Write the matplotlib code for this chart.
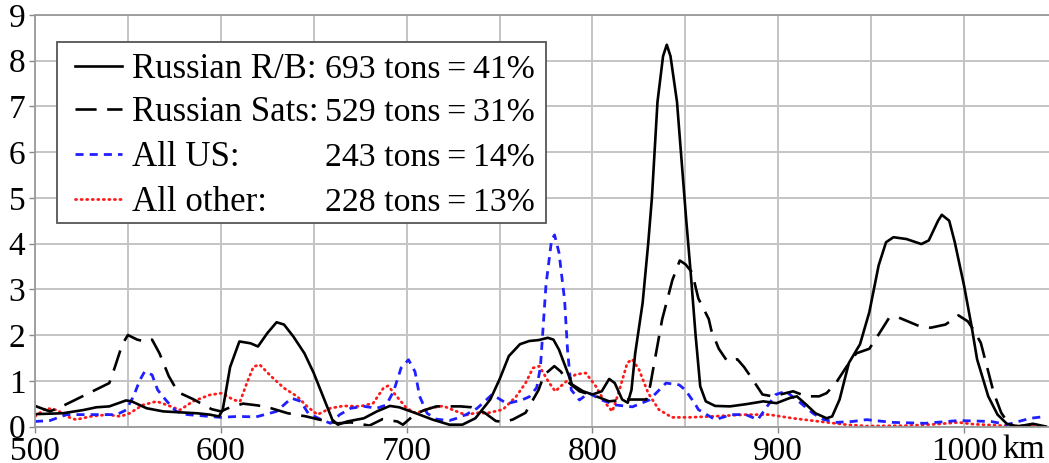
import matplotlib
matplotlib.use('Agg')
import matplotlib.pyplot as plt
import matplotlib.font_manager as fm
from matplotlib.lines import Line2D
from matplotlib.patches import Rectangle

# look up the Times-like serif by file, so the name surely resolves
serif = 'DejaVu Serif'
for f in fm.findSystemFonts():
    if 'LiberationSerif-Regular' in f:
        fm.fontManager.addfont(f)
        serif = fm.FontProperties(fname=f).get_name()
        break
plt.rcParams['font.family'] = [serif, 'DejaVu Serif']

# altitude (km) and mass per bin
rb_km = [500, 515, 526, 533, 540, 549, 552, 560, 569, 578, 587, 594, 599, 601, 605, 610,
         616, 620, 625, 630, 634, 639, 645, 650, 655, 660, 663, 668, 677, 684, 691, 696,
         705, 714, 723, 730, 737, 745, 750, 755, 761, 766, 771, 776, 779, 782, 786, 789,
         795, 800, 805, 809, 812, 816, 819, 821, 823, 827, 830, 832, 835, 838, 840, 842,
         845.5, 848, 850.5, 853, 855.5, 858, 861, 866, 874, 883, 892, 899, 906, 910, 915,
         920, 926, 929, 933, 938, 944, 949, 954, 958, 962, 969, 977, 981, 986, 988, 992,
         995, 1000, 1004, 1007, 1013, 1018, 1023, 1029, 1037, 1044]
rb_t = [0.27, 0.29, 0.36, 0.42, 0.44, 0.57, 0.55, 0.40, 0.33, 0.31, 0.29, 0.26, 0.22, 0.36, 1.30, 1.86,
        1.82, 1.75, 2.04, 2.28, 2.23, 1.97, 1.60, 1.17, 0.66, 0.15, 0.04, 0.11, 0.18, 0.33, 0.45, 0.42,
        0.29, 0.15, 0.04, 0.04, 0.18, 0.59, 1.03, 1.54, 1.80, 1.87, 1.89, 1.94, 1.90, 1.68, 1.25, 0.92,
        0.77, 0.70, 0.77, 1.04, 0.95, 0.59, 0.52, 0.80, 1.60, 2.70, 4.00, 5.00, 7.10, 8.10, 8.35, 8.10,
        7.10, 5.80, 4.50, 3.30, 2.00, 0.88, 0.55, 0.45, 0.44, 0.49, 0.55, 0.51, 0.62, 0.66, 0.48,
        0.29, 0.18, 0.22, 0.59, 1.39, 1.80, 2.50, 3.52, 4.03, 4.14, 4.10, 3.99, 4.07, 4.50, 4.63, 4.50,
        4.03, 3.08, 2.20, 1.47, 0.66, 0.26, 0.06, 0.00, 0.06, 0.00]

sats_km = [500, 508, 515, 525, 535, 540, 543, 547, 550, 555, 560, 563, 567, 572, 577, 585,
           595, 600, 605, 612, 620, 627, 636, 646, 653, 663, 670, 680, 687, 695, 698, 704,
           709, 716, 729, 735, 742, 748, 752, 757, 764, 771, 774, 779.5, 783, 787.5, 793, 802,
           809, 818, 829, 831, 837.5, 843, 847, 850, 853.6, 857, 862.6, 864, 868, 872.5, 878,
           881.6, 885, 891.5, 897, 908, 915, 922, 926, 931, 936.6, 942, 949, 953.5, 959.7, 965,
           975.6, 982, 990, 997, 1002, 1005, 1009, 1016, 1020, 1025, 1035, 1044]
sats_t = [0.45, 0.33, 0.45, 0.65, 0.85, 0.95, 1.30, 1.80, 2.00, 1.90, 1.85, 1.90, 1.60, 1.10, 0.75, 0.60,
          0.38, 0.33, 0.42, 0.50, 0.46, 0.40, 0.29, 0.22, 0.15, 0.07, 0.09, 0.02, 0.16, 0.11, 0.04, 0.25,
          0.35, 0.44, 0.44, 0.42, 0.30, 0.12, 0.10, 0.15, 0.30, 0.80, 1.13, 1.32, 1.20, 0.95, 0.77, 0.66,
          0.55, 0.59, 0.59, 0.88, 2.34, 3.20, 3.63, 3.55, 3.37, 2.80, 2.35, 2.10, 1.70, 1.43, 1.47,
          1.30, 1.10, 0.70, 0.66, 0.77, 0.66, 0.66, 0.73, 0.95, 1.30, 1.60, 1.70, 1.98, 2.38, 2.38,
          2.20, 2.16, 2.23, 2.43, 2.30, 2.12, 1.83, 0.73, 0.30, 0.00, 0.02, 0.00]

us_km = [500, 508, 517, 526, 535, 544, 549, 553, 556.5, 559, 563, 566, 571, 576, 582, 591,
         600, 609, 619, 630, 638, 643, 647, 654, 659, 664, 670, 677, 684, 689, 693, 697,
         701, 704.5, 707, 711, 716, 723, 727, 732, 738, 746, 754, 762, 766, 770, 772, 775,
         778, 779.6, 782, 785, 786.6, 788.6, 793, 798, 805, 812.5, 821.5, 830.6, 839.6, 846.7,
         850, 855.6, 857, 866, 875, 882.5, 889, 894, 898.7, 904, 911, 918.6, 924, 931, 940,
         947.5, 961.5, 979, 997, 1014.5, 1023, 1035.7, 1044]
us_t = [0.11, 0.13, 0.26, 0.26, 0.26, 0.26, 0.36, 0.66, 1.02, 1.20, 1.13, 0.80, 0.55, 0.33, 0.26, 0.23,
        0.20, 0.22, 0.21, 0.33, 0.62, 0.55, 0.29, 0.15, 0.07, 0.26, 0.40, 0.44, 0.40, 0.47, 0.77, 1.28,
        1.46, 1.20, 0.66, 0.29, 0.16, 0.13, 0.18, 0.26, 0.40, 0.70, 0.50, 0.58, 0.65, 0.85, 1.30, 3.10,
        4.08, 4.19, 3.80, 2.77, 1.67, 0.80, 0.58, 0.73, 0.58, 0.47, 0.43, 0.58, 0.95, 0.91,
        0.80, 0.47, 0.37, 0.15, 0.26, 0.26, 0.15, 0.44, 0.70, 0.77, 0.55, 0.29, 0.16, 0.09, 0.11,
        0.15, 0.09, 0.07, 0.13, 0.11, 0.04, 0.18, 0.22]

oth_km = [500, 506, 512, 517, 522, 530, 539, 546, 551, 558, 565.5, 573, 578, 585, 594, 600.5,
          607, 610.4, 614, 617.6, 621, 627, 634, 641, 646.4, 652, 659, 666, 675, 682, 687.5, 690,
          694.6, 700, 705, 712.5, 719.6, 725, 732, 737.5, 743, 751.8, 759, 764, 768, 771.4, 776.8,
          780, 784.8, 791, 796.4, 801.8, 807, 810.7, 814, 818.75, 821.4, 825, 830, 835.7, 842.8,
          851.8, 864, 882.5, 895, 907.8, 922, 936.6, 947.5, 970, 985, 997, 1005, 1020, 1044]
oth_t = [0.22, 0.40, 0.36, 0.22, 0.15, 0.22, 0.26, 0.22, 0.29, 0.47, 0.55, 0.44, 0.36, 0.55, 0.69, 0.73,
         0.58, 0.55, 0.95, 1.31, 1.35, 1.10, 0.84, 0.66, 0.44, 0.26, 0.40, 0.45, 0.44, 0.51, 0.84, 0.89,
         0.66, 0.40, 0.29, 0.40, 0.45, 0.36, 0.25, 0.30, 0.29, 0.37, 0.66, 0.95, 1.28, 1.32, 0.95,
         0.77, 0.95, 1.14, 1.17, 0.88, 0.51, 0.33, 0.73, 1.39, 1.47, 1.25, 0.73, 0.37, 0.20,
         0.20, 0.22, 0.26, 0.26, 0.18, 0.11, 0.04, 0.01, 0.02, 0.05, 0.09, 0.05, 0.02, 0.00]

names = ['Russian R/B:', 'Russian Sats:', 'All US:', 'All other:']
totals = ['693 tons\u2009=\u200941%', '529 tons\u2009=\u200931%',
          '243 tons\u2009=\u200914%', '228 tons\u2009=\u200913%']

W, H = 1049, 463
fig = plt.figure(figsize=(W / 100, H / 100), dpi=100)
ax = fig.add_axes([35 / W, (H - 426.5) / H, (W - 35) / W, (426.5 - 15) / H])

blue = '#1f1fff'
red = '#ff1a1a'
styles = [
    dict(color='black', lw=1.9, ls='-'),
    dict(color='black', lw=1.9, ls=(0, (8, 4))),
    dict(color=blue, lw=2.0, ls=(0, (2.9, 2.2))),
    dict(color=red, lw=2.0, ls=(0, (0.4, 1.6)), dash_capstyle='round'),
]
series = [(rb_km, rb_t), (sats_km, sats_t), (us_km, us_t), (oth_km, oth_t)]
for (xs, ys), st in zip(series[::-1], styles[::-1]):
    ax.plot(xs, ys, **st)

ax.set_xlim(500, 1045.7)
ax.set_ylim(0, 9)
ax.set_xticks(range(500, 1001, 100))
ax.set_xticklabels(['500', '600', '700', '800', '900', '1000'])
ax.set_xticks(range(550, 1050, 100), minor=True)
ax.set_yticks(range(0, 10))
ax.grid(True, which='both', color='#c4c4c4', lw=1.4)
ax.set_axisbelow(True)
ax.tick_params(labelsize=24, length=4, width=1, color='#888888', pad=3)
ax.tick_params(which='minor', length=0)
for s in ['top', 'left', 'bottom']:
    ax.spines[s].set_color('#9a9a9a')
    ax.spines[s].set_linewidth(1.3)
ax.spines['right'].set_visible(False)
ax.annotate('km', xy=(1000, 0), xycoords=('data', 'axes fraction'),
            xytext=(38, -4 - 4.2), textcoords='offset pixels',
            ha='left', va='top', fontsize=24)

# legend box, placed by hand so the tonnage column lines up
def fx(px):
    return px / W

def fy(py):
    return 1 - py / H

fig.add_artist(Rectangle((fx(57), fy(223)), fx(546) - fx(57), fy(42) - fy(223),
                         transform=fig.transFigure, facecolor='white',
                         edgecolor='#555555', lw=1.3, zorder=5))
rows = [66, 109, 154, 199]
for row, st, nm, tot in zip(rows, styles, names, totals):
    fig.add_artist(Line2D([fx(75), fx(122)], [fy(row), fy(row)],
                          transform=fig.transFigure, zorder=6, **st))
    fig.text(fx(132), fy(row + 12), nm, fontsize=25, va='baseline', zorder=6)
    fig.text(fx(325), fy(row + 12), tot, fontsize=24.3, va='baseline', zorder=6)

fig.savefig('out.png', dpi=100)
